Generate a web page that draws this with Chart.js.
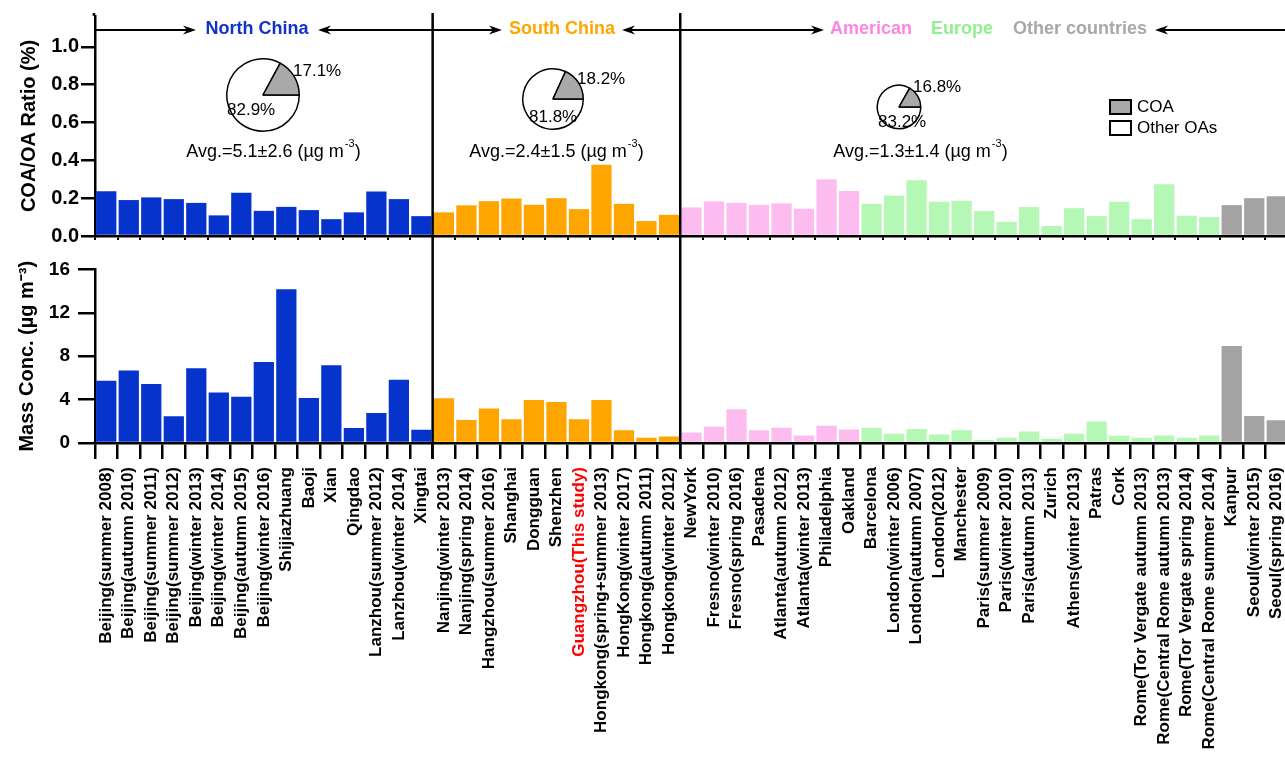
<!DOCTYPE html>
<html>
<head>
<meta charset="utf-8">
<script src="https://cdn.jsdelivr.net/npm/chart.js@4.4.1/dist/chart.umd.min.js"></script>
<style>
  html, body { margin: 0; padding: 0; background: #fff; overflow: hidden; width: 1285px; height: 761px; }
  canvas { position: absolute; }
</style>
</head>
<body>
<canvas id="ratioChart" width="1290" height="250" style="left:0;top:0"></canvas>
<canvas id="massChart" width="1290" height="511" style="left:0;top:250px"></canvas>
<script>
    // sites per region
    const northSites = ['Beijing(summer 2008)', 'Beijing(autumn 2010)', 'Beijing(summer 2011)', 'Beijing(summer 2012)',
        'Beijing(winter 2013)', 'Beijing(winter 2014)', 'Beijing(autumn 2015)', 'Beijing(winter 2016)',
        'Shijiazhuang', 'Baoji', 'Xian', 'Qingdao', 'Lanzhou(summer 2012)', 'Lanzhou(winter 2014)', 'Xingtai'];
    const southSites = ['Nanjing(winter 2013)', 'Nanjing(spring 2014)', 'Hangzhou(summer 2016)', 'Shanghai', 'Dongguan',
        'Shenzhen', 'Guangzhou(This study)', 'Hongkong(spring+summer 2013)', 'HongKong(winter 2017)',
        'Hongkong(autumn 2011)', 'Hongkong(winter 2012)'];
    const americaSites = ['NewYork', 'Fresno(winter 2010)', 'Fresno(spring 2016)', 'Pasadena', 'Atlanta(autumn 2012)',
        'Atlanta(winter 2013)', 'Philadelphia', 'Oakland'];
    const europeSites = ['Barcelona', 'London(winter 2006)', 'London(autumn 2007)', 'London(2012)', 'Manchester',
        'Paris(summer 2009)', 'Paris(winter 2010)', 'Paris(autumn 2013)', 'Zurich', 'Athens(winter 2013)', 'Patras',
        'Cork', 'Rome(Tor Vergate autumn 2013)', 'Rome(Central Rome autumn 2013)', 'Rome(Tor Vergate spring 2014)',
        'Rome(Central Rome summer 2014)'];
    const otherSites = ['Kanpur', 'Seoul(winter 2015)', 'Seoul(spring 2016)'];

    // COA/OA ratio
    const northRatio = [0.237, 0.19, 0.204, 0.195, 0.175, 0.109, 0.228, 0.133, 0.154, 0.137, 0.089, 0.125, 0.235, 0.195, 0.105];
    const southRatio = [0.125, 0.162, 0.184, 0.198, 0.165, 0.2, 0.142, 0.377, 0.17, 0.079, 0.112];
    const americaRatio = [0.151, 0.183, 0.175, 0.165, 0.172, 0.144, 0.3, 0.238];
    const europeRatio = [0.17, 0.214, 0.295, 0.181, 0.186, 0.132, 0.075, 0.153, 0.053, 0.147, 0.105, 0.181, 0.089, 0.274, 0.107, 0.1];
    const otherRatio = [0.163, 0.2, 0.21];

    // COA mass concentration
    const northMass = [5.74, 6.68, 5.44, 2.46, 6.89, 4.66, 4.27, 7.46, 14.17, 4.15, 7.16, 1.38, 2.76, 5.83, 1.23];
    const southMass = [4.12, 2.11, 3.19, 2.2, 3.97, 3.79, 2.2, 3.97, 1.17, 0.49, 0.6];
    const americaMass = [0.96, 1.5, 3.1, 1.17, 1.41, 0.69, 1.6, 1.24];
    const europeMass = [1.4, 0.86, 1.29, 0.78, 1.17, 0.28, 0.49, 1.06, 0.39, 0.86, 1.98, 0.66, 0.49, 0.69, 0.49, 0.69];
    const otherMass = [8.93, 2.49, 2.1];

    const ratioTicks = [0, 0.2, 0.4, 0.6, 0.8, 1.0];
    const massMajorTicks = [0, 4, 8, 12, 16];

    // pie insets: COA share vs other OAs
    const pieCOA = [17.1, 18.2, 16.8];
    const pieOther = [82.9, 81.8, 83.2];
    const avgLabels = ['Avg.=5.1±2.6', 'Avg.=2.4±1.5', 'Avg.=1.3±1.4'];

    const regionNames = ['North China', 'South China', 'American', 'Europe', 'Other countries'];
    const regionColors = ['#0533cc', '#ffa500', '#fcbcf0', '#b5f7b5', '#a3a3a3'];
    const headerColors = ['#1133cc', '#ffa500', '#fb86e3', '#8ff08f', '#a8a8a8'];

    const regions = [northSites, southSites, americaSites, europeSites, otherSites];
    const labels = regions.flat();
    const barColors = regions.flatMap((r, i) => r.map(() => regionColors[i]));
    const ratioData = [northRatio, southRatio, americaRatio, europeRatio, otherRatio].flat();
    const massData = [northMass, southMass, americaMass, europeMass, otherMass].flat();
    const guangzhouIndex = labels.indexOf('Guangzhou(This study)');

    const FONT = "'Liberation Sans', Arial, sans-serif";
    Chart.defaults.font.family = FONT;
    Chart.defaults.color = '#000';

    // boundaries between North / South / rest
    function boundaries(x) {
        const b1 = northSites.length - 0.5;
        const b2 = northSites.length + southSites.length - 0.5;
        return [b1, b2].map(v => (x.getPixelForValue(Math.floor(v)) + x.getPixelForValue(Math.ceil(v))) / 2);
    }

    function arrowHead(ctx, x, y, dir) {
        ctx.beginPath();
        ctx.moveTo(x, y);
        ctx.lineTo(x - dir * 13, y - 4.5);
        ctx.lineTo(x - dir * 9, y);
        ctx.lineTo(x - dir * 13, y + 4.5);
        ctx.closePath();
        ctx.fill();
    }

    function line(ctx, x1, y1, x2, y2) {
        ctx.beginPath();
        ctx.moveTo(x1, y1);
        ctx.lineTo(x2, y2);
        ctx.stroke();
    }

    function supText(ctx, main, sup, tail, cx, y, size) {
        ctx.font = size + 'px ' + FONT;
        const w1 = ctx.measureText(main).width;
        ctx.font = Math.round(size * 0.6) + 'px ' + FONT;
        const w2 = ctx.measureText(sup).width;
        ctx.font = size + 'px ' + FONT;
        const w3 = ctx.measureText(tail).width;
        let x = cx - (w1 + w2 + w3) / 2;
        ctx.textAlign = 'left';
        ctx.textBaseline = 'middle';
        ctx.fillText(main, x, y);
        x += w1;
        ctx.font = Math.round(size * 0.6) + 'px ' + FONT;
        ctx.fillText(sup, x + 1, y - size * 0.45);
        x += w2 + 1;
        ctx.font = size + 'px ' + FONT;
        ctx.fillText(tail, x, y);
    }

    // keep both x scales identical: no extra side padding for rotated labels
    function fixX(h) {
        return s => {
            s.height = h;
            s.paddingLeft = 0;
            s.paddingRight = 0;
        };
    }

    const topDecor = {
        id: 'topDecor',
        afterDraw(chart) {
            const ctx = chart.ctx;
            const x = chart.scales.x;
            const [b1, b2] = boundaries(x);
            ctx.save();
            ctx.strokeStyle = '#000';
            ctx.fillStyle = '#000';
            ctx.lineWidth = 2.5;
            line(ctx, b1, 13, b1, chart.height);
            line(ctx, b2, 13, b2, chart.height);
            line(ctx, x.left - 1, 13, x.left - 1, chart.chartArea.top);

            // region arrows
            const ay = 30;
            ctx.lineWidth = 2;
            line(ctx, x.left, ay, 190, ay); arrowHead(ctx, 196, ay, 1);
            line(ctx, 324, ay, b1, ay); arrowHead(ctx, 318, ay, -1);
            line(ctx, b1, ay, 496, ay); arrowHead(ctx, 502, ay, 1);
            line(ctx, 628, ay, 818, ay); arrowHead(ctx, 622, ay, -1); arrowHead(ctx, 824, ay, 1);
            line(ctx, 1161, ay, chart.width, ay); arrowHead(ctx, 1155, ay, -1);

            ctx.font = 'bold 18px ' + FONT;
            ctx.textBaseline = 'middle';
            ctx.textAlign = 'center';
            const headX = [257, 562, 871, 962, 1080];
            regionNames.forEach((n, i) => {
                ctx.fillStyle = headerColors[i];
                ctx.fillText(n, headX[i], ay - 1);
            });

            // averages
            ctx.fillStyle = '#000';
            const avgX = [273, 556, 920];
            avgLabels.forEach((t, i) => supText(ctx, t + ' (µg m', '-3', ')', avgX[i], 152, 18));

            // legend
            ctx.lineWidth = 2;
            ctx.fillStyle = '#a9a9a9';
            ctx.fillRect(1110, 100, 21, 14);
            ctx.strokeRect(1110, 100, 21, 14);
            ctx.fillStyle = '#fff';
            ctx.fillRect(1110, 121, 21, 14);
            ctx.strokeRect(1110, 121, 21, 14);
            ctx.fillStyle = '#000';
            ctx.font = '17px ' + FONT;
            ctx.textAlign = 'left';
            ctx.fillText('COA', 1137, 107);
            ctx.fillText('Other OAs', 1137, 128);
            ctx.restore();
        }
    };

    const bottomDecor = {
        id: 'bottomDecor',
        afterDraw(chart) {
            const ctx = chart.ctx;
            const x = chart.scales.x;
            const [b1, b2] = boundaries(x);
            ctx.save();
            ctx.strokeStyle = '#000';
            ctx.lineWidth = 2.5;
            const yb = chart.chartArea.bottom + 16;
            line(ctx, b1, 0, b1, yb);
            line(ctx, b2, 0, b2, yb);
            ctx.restore();
        }
    };

    const ctx1 = document.getElementById('ratioChart').getContext('2d');
    new Chart(ctx1, {
        type: 'bar',
        data: {
            labels: labels,
            datasets: [{
                label: 'COA/OA',
                data: ratioData,
                backgroundColor: barColors,
                borderWidth: 0,
                barPercentage: 0.9,
                categoryPercentage: 1
            }]
        },
        options: {
            responsive: false,
            animation: false,
            layout: { padding: { top: 16, right: 2, left: 0, bottom: 0 } },
            plugins: { legend: { display: false }, tooltip: { enabled: false } },
            scales: {
                x: {
                    offset: true,
                    afterFit: fixX(13),
                    ticks: { display: false, autoSkip: false },
                    grid: { offset: true, drawOnChartArea: false, tickLength: 4, lineWidth: 2, color: '#000' },
                    border: { color: '#000', width: 2.5 }
                },
                y: {
                    min: 0,
                    max: 1.163,
                    afterFit: s => { s.width = 95; },
                    afterBuildTicks: s => { s.ticks = ratioTicks.map(v => ({ value: v })); },
                    ticks: {
                        padding: 2,
                        font: { size: 20, weight: 'bold' },
                        callback: v => Number(v).toFixed(1)
                    },
                    grid: { drawOnChartArea: false, tickLength: 14, lineWidth: 2.5, color: '#000' },
                    border: { color: '#000', width: 2.5 },
                    title: {
                        display: true,
                        text: 'COA/OA Ratio (%)',
                        font: { size: 20, weight: 'bold' },
                        padding: { top: 17, bottom: 0 }
                    }
                }
            }
        },
        plugins: [topDecor]
    });

    const ctx2 = document.getElementById('massChart').getContext('2d');
    new Chart(ctx2, {
        type: 'bar',
        data: {
            labels: labels,
            datasets: [{
                label: 'COA',
                data: massData,
                backgroundColor: barColors,
                borderWidth: 0,
                barPercentage: 0.9,
                categoryPercentage: 1
            }]
        },
        options: {
            responsive: false,
            animation: false,
            layout: { padding: { top: 15, right: 2, left: 0, bottom: 0 } },
            plugins: { legend: { display: false }, tooltip: { enabled: false } },
            scales: {
                x: {
                    offset: true,
                    afterFit: fixX(318),
                    ticks: {
                        autoSkip: false,
                        maxRotation: 90,
                        minRotation: 90,
                        padding: 8,
                        font: { size: 17, weight: 'bold' },
                        color: c => c.index === guangzhouIndex ? '#ff0000' : '#000'
                    },
                    grid: { offset: true, drawOnChartArea: false, tickLength: 16, lineWidth: 2.5, color: '#000' },
                    border: { color: '#000', width: 2.5 }
                },
                y: {
                    min: 0,
                    max: 16,
                    afterFit: s => { s.width = 95; },
                    ticks: {
                        stepSize: 2,
                        padding: 8,
                        font: { size: 19, weight: 'bold' },
                        callback: v => massMajorTicks.includes(v) ? String(v) : ''
                    },
                    grid: {
                        drawOnChartArea: false,
                        tickLength: 17,
                        lineWidth: 2.5,
                        color: '#000',
                        tickBorderDash: c => (c.tick && !massMajorTicks.includes(c.tick.value)) ? [0, 7, 40, 0] : []
                    },
                    border: { color: '#000', width: 2.5 },
                    title: {
                        display: true,
                        text: 'Mass Conc. (µg m⁻³)',
                        font: { size: 20, weight: 'bold' },
                        padding: { top: 15, bottom: 0 }
                    }
                }
            }
        },
        plugins: [bottomDecor]
    });

    // pie insets, each on its own small canvas above the ratio panel
    const pieBoxes = [
        { cx: 263, cy: 95, r: 37, coaAt: [30, -24], otherAt: [-36, 15] },
        { cx: 553, cy: 99, r: 31, coaAt: [24, -20], otherAt: [-24, 18] },
        { cx: 899, cy: 107, r: 22.5, coaAt: [14, -20], otherAt: [-21, 15] }
    ];

    pieBoxes.forEach((b, i) => {
        const cv = document.createElement('canvas');
        cv.width = 160;
        cv.height = 100;
        cv.style.left = (b.cx - 60) + 'px';
        cv.style.top = (b.cy - 50) + 'px';
        document.body.appendChild(cv);
        const pieLabels = {
            id: 'pieLabels',
            afterDraw(chart) {
                const c = chart.ctx;
                c.save();
                c.fillStyle = '#000';
                c.font = '17px ' + FONT;
                c.textAlign = 'left';
                c.textBaseline = 'middle';
                c.fillText(pieCOA[i].toFixed(1) + '%', 60 + b.coaAt[0], 50 + b.coaAt[1]);
                c.fillText(pieOther[i].toFixed(1) + '%', 60 + b.otherAt[0], 50 + b.otherAt[1]);
                c.restore();
            }
        };
        new Chart(cv.getContext('2d'), {
            type: 'pie',
            data: {
                labels: ['Other OAs', 'COA'],
                datasets: [{
                    data: [pieOther[i], pieCOA[i]],
                    backgroundColor: ['#ffffff', '#a9a9a9'],
                    borderColor: '#000',
                    borderWidth: 1.5
                }]
            },
            options: {
                responsive: false,
                animation: false,
                rotation: 90,
                layout: { padding: { left: 60 - b.r, right: 100 - b.r, top: 50 - b.r, bottom: 50 - b.r } },
                plugins: { legend: { display: false }, tooltip: { enabled: false } }
            },
            plugins: [pieLabels]
        });
    });
</script>
</body>
</html>
